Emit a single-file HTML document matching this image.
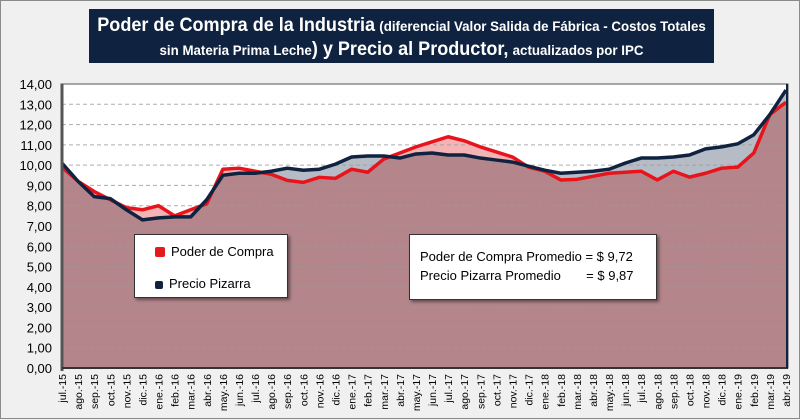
<!DOCTYPE html>
<html><head><meta charset="utf-8"><style>
body{margin:0;width:800px;height:419px;overflow:hidden;background:#f0f0f0;font-family:"Liberation Sans",sans-serif}
#wrap{position:absolute;left:0;top:0;width:798px;height:417px;border:1px solid #8a8a8a;background:#f0f0f0}
#title{position:absolute;left:88px;top:8px;width:625px;height:54px;background:#0f2340;color:#fff;text-align:center;font-weight:bold}
.ln{position:absolute;left:-100px;width:825px;text-align:center;white-space:nowrap;transform:scaleX(0.95);line-height:24px}
.big{font-size:19px}.sm{font-size:14px}
.box{position:absolute;background:#fff;border:1px solid #333;box-shadow:2px 2px 3px rgba(0,0,0,.45);font-size:13px;color:#000}
</style></head><body>
<div id="wrap">
<div id="title">
<div class="ln" style="top:5px"><span class="big">Poder de Compra de la Industria</span> <span class="sm">(diferencial Valor Salida de Fábrica - Costos Totales</span></div>
<div class="ln" style="top:29px"><span class="sm">sin Materia Prima Leche</span><span class="big">) y Precio al Productor,</span> <span class="sm">actualizados por IPC</span></div>
</div>
<svg id="chart" width="800" height="419" style="position:absolute;left:0;top:0"></svg>
<div class="box" style="left:133px;top:233px;width:152px;height:62px">
 <div style="position:absolute;left:20px;top:9px"><span style="display:inline-block;width:8px;height:8px;background:#e31b1b;border:1px solid #e31b1b;border-radius:2px;margin-right:6px;vertical-align:-1px"></span>Poder de Compra</div>
 <div style="position:absolute;left:20px;top:41px"><span style="display:inline-block;width:8px;height:8px;background:#0f2340;border-radius:2px;margin-right:6px;vertical-align:-1px"></span>Precio Pizarra</div>
</div>
<div class="box" style="left:408px;top:233px;width:246px;height:64px">
 <div style="position:absolute;left:10px;top:14px;white-space:pre">Poder de Compra Promedio = $ 9,72</div>
 <div style="position:absolute;left:10px;top:33px;white-space:pre">Precio Pizarra Promedio       = $ 9,87</div>
</div>
</div>
<script>
const categories=["jul.-15","ago.-15","sep.-15","oct.-15","nov.-15","dic.-15","ene.-16","feb.-16","mar.-16","abr.-16","may.-16","jun.-16","jul.-16","ago.-16","sep.-16","oct.-16","nov.-16","dic.-16","ene.-17","feb.-17","mar.-17","abr.-17","may.-17","jun.-17","jul.-17","ago.-17","sep.-17","oct.-17","nov.-17","dic.-17","ene.-18","feb.-18","mar.-18","abr.-18","may.-18","jun.-18","jul.-18","ago.-18","sep.-18","oct.-18","nov.-18","dic.-18","ene.-19","feb.-19","mar.-19","abr.-19"];
const poder=[9.9,9.2,8.7,8.3,7.9,7.8,8.0,7.5,7.8,8.1,9.8,9.85,9.7,9.55,9.25,9.15,9.4,9.35,9.8,9.65,10.3,10.6,10.9,11.15,11.4,11.2,10.9,10.65,10.4,9.9,9.7,9.27,9.3,9.45,9.6,9.65,9.7,9.27,9.7,9.41,9.6,9.85,9.9,10.6,12.5,13.1];
const pizarra=[10.1,9.2,8.45,8.35,7.8,7.3,7.4,7.45,7.45,8.3,9.5,9.6,9.6,9.7,9.85,9.75,9.8,10.05,10.4,10.45,10.45,10.35,10.55,10.6,10.5,10.5,10.35,10.25,10.15,9.95,9.75,9.6,9.65,9.7,9.8,10.1,10.35,10.35,10.4,10.5,10.8,10.9,11.05,11.5,12.5,13.7];
const yTicks=[0,1,2,3,4,5,6,7,8,9,10,11,12,13,14];
const NS="http://www.w3.org/2000/svg",svg=document.getElementById('chart');
const L=61,R=785,T=83,B=367,yMax=14;
const x=i=>L+i*(R-L)/(categories.length-1);
const y=v=>B-v*(B-T)/yMax;
function mk(t,a){const e=document.createElementNS(NS,t);for(const k in a)e.setAttribute(k,a[k]);svg.appendChild(e);return e;}
let e=mk('rect',{x:L-1,y:T,width:R-L+3,height:B-T,fill:'#fff',stroke:'#555','stroke-width':1});

function area(vals){return 'M'+x(0)+','+B+' '+vals.map((v,i)=>'L'+x(i)+','+y(v)).join(' ')+' L'+x(vals.length-1)+','+B+'Z';}
e=mk('path',{d:area(poder),fill:'#f4b4b6'});
e=mk('path',{d:area(pizarra),fill:'#b6bcc6'});
e=mk('path',{d:area(poder.map((v,i)=>Math.min(v,pizarra[i]))),fill:'#b4868c'});
yTicks.forEach(t=>{
 if(t>0&&t<14){const g=mk('line',{x1:L,x2:R,y1:y(t),y2:y(t),stroke:'#999','stroke-dasharray':'4,3','stroke-width':1,opacity:.8});}
 const tx=mk('text',{x:51,y:y(t)+5,'text-anchor':'end','font-size':13,fill:'#000'});tx.textContent=t.toFixed(2).replace('.',',');
 
});
function line(vals,c,n){const p=mk('polyline',{points:vals.map((v,i)=>x(i)+','+y(v)).join(' '),fill:'none',stroke:c,'stroke-width':3.5,'stroke-linejoin':'round'});}
line(poder,'#e8141c','poder-line');
line(pizarra,'#0f2340','pizarra-line');
e=mk('line',{x1:L,x2:L,y1:T,y2:B+3,stroke:'#555','stroke-width':3});
e=mk('line',{x1:L,x2:R+2,y1:B,y2:B,stroke:'#333','stroke-width':2});
e=mk('line',{x1:R+1,x2:R+1,y1:T,y2:B,stroke:'#0f2340','stroke-width':2});
categories.forEach((c,i)=>{const tx=mk('text',{x:0,y:0,'text-anchor':'end','font-size':10.5,fill:'#000',transform:`translate(${x(i)+4},${B+6}) rotate(-90)`});tx.textContent=c;
 });
</script>
</body></html>
